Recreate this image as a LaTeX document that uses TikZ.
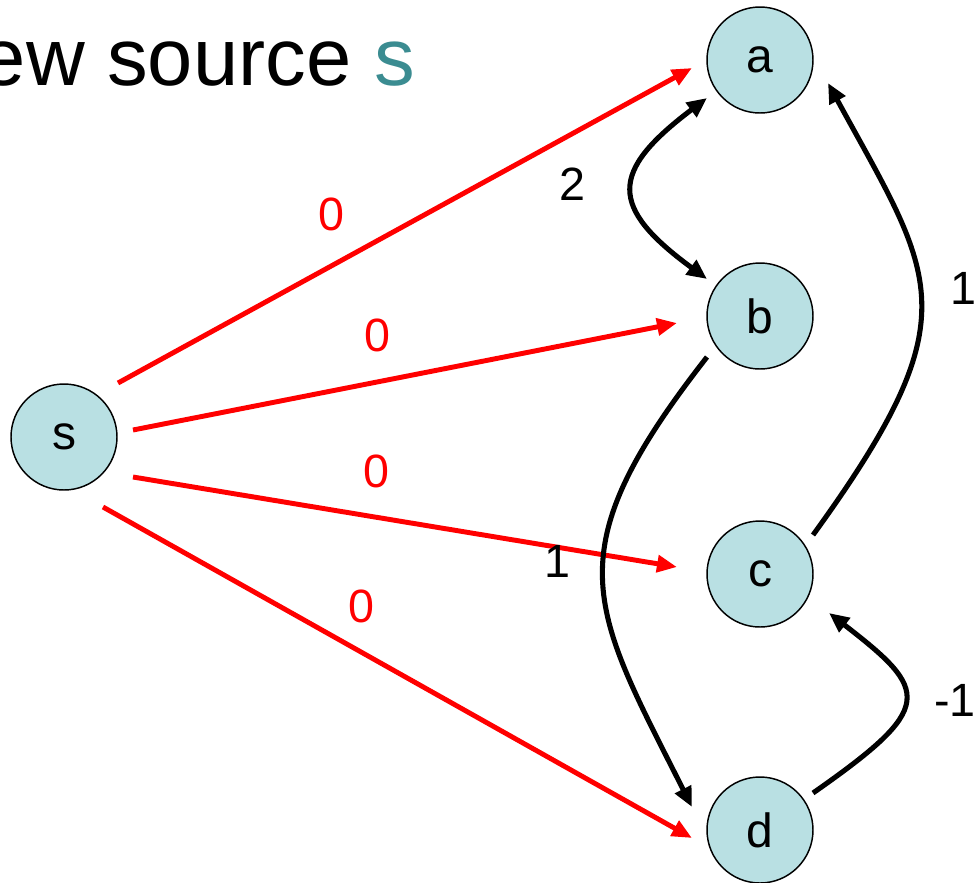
\documentclass[tikz,border=0pt]{standalone}
\usepackage{fontspec}
\setmainfont{Liberation Sans}
\usetikzlibrary{arrows.meta,calc}
\definecolor{nodefill}{HTML}{B9E0E3}
\definecolor{titleteal}{HTML}{3B8C91}
\definecolor{edgered}{HTML}{FF0000}
\begin{document}
\begin{tikzpicture}[x=0.75pt,y=-0.75pt,
  vertex/.style={circle,draw=black,line width=1.1pt,fill=nodefill,minimum size=79.5pt,inner sep=0pt,font=\fontsize{36}{43}\selectfont},
  rededge/.style={draw=edgered,line width=3.7pt,-{Triangle[length=15pt,width=12.5pt]}},
  blackedge/.style={draw=black,line width=3.8pt,-{Triangle[length=15pt,width=13pt]}},
  wlabel/.style={inner sep=0pt,font=\fontsize{35}{42}\selectfont},
  redlabel/.style={wlabel,text=edgered}]
\useasboundingbox (0,0) rectangle (976,883);
\node[inner sep=0pt,anchor=base east,font=\fontsize{61}{73}\selectfont] (title) at (415,85) {ew source {\color{titleteal}s}};
\node[vertex] (s) at (64,437) {s};
\node[vertex] (a) at (760,60) {a};
\node[vertex] (b) at (760,316) {b};
\node[vertex] (c) at (760,574) {c};
\node[vertex] (d) at (760,830) {d};
% red edges from s
\draw[rededge] ($(s)+(54,-54)$) -- ($(a)+(-68,8)$);
\draw[rededge] ($(s)+(69,-7)$) -- ($(b)+(-83,7)$);
\draw[rededge] ($(s)+(69,40)$) -- ($(c)+(-83,-7)$);
\draw[rededge] ($(s)+(39,70)$) -- ($(d)+(-68,8)$);
% black edges
\draw[blackedge,{Triangle[length=15pt,width=13pt]}-{Triangle[length=15pt,width=13pt]}] ($(a)+(-53,38)$) .. controls (609,172) and (609,207) .. ($(b)+(-53,-37)$);
\draw[blackedge] ($(c)+(53,-39)$) .. controls (973,314) and (935,279) .. ($(a)+(68,23)$);
\draw[blackedge] ($(b)+(-53,41)$) .. controls (553,554) and (590,605) .. ($(d)+(-68,-23)$);
\draw[blackedge] ($(d)+(53,-37)$) .. controls (936,707) and (930,691) .. ($(c)+(69,39)$);
% labels
\node[redlabel] (l1) at (331,214) {0};
\node[redlabel] (l2) at (377,335) {0};
\node[redlabel] (l3) at (376,471) {0};
\node[redlabel] (l4) at (361,606) {0};
\node[wlabel] (l5) at (572,184) {2};
\node[wlabel] (l6) at (557,561) {1};
\node[wlabel] (l7) at (963,288) {1};
\node[wlabel] (l8) at (955,700) {-1};
\end{tikzpicture}
\end{document}
